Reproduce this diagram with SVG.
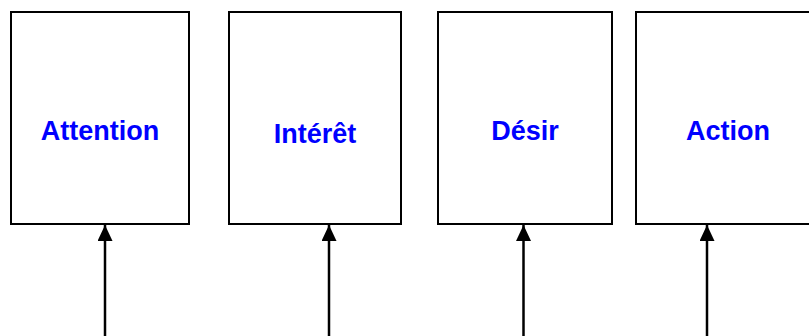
<svg xmlns="http://www.w3.org/2000/svg" width="809" height="336" viewBox="0 0 809 336">
<defs>
<style>
.box{fill:#fff;stroke:#000;stroke-width:2}
.lbl{font-family:"Liberation Sans",Arial,sans-serif;font-weight:bold;font-size:27px;fill:#0000ff;text-anchor:middle}
.conn{stroke:#000;stroke-width:2.5;fill:none}
</style>
<marker id="ah" markerWidth="16" markerHeight="15" refX="16" refY="7.5" orient="auto" markerUnits="userSpaceOnUse" viewBox="0 0 16 15">
<path d="M0,0 L16,7.5 L0,15 Z" fill="#000"/>
</marker>
</defs>
<rect width="809" height="336" fill="#fff"/>
<g id="attention"><rect class="box" x="11" y="12" width="178" height="212"/><text class="lbl" x="100" y="140">Attention</text></g>
<g id="interet"><rect class="box" x="229" y="12" width="172" height="212"/><text class="lbl" x="315" y="143">Intérêt</text></g>
<g id="desir"><rect class="box" x="438" y="12" width="174" height="212"/><text class="lbl" x="525" y="140">Désir</text></g>
<g id="action"><rect class="box" x="636" y="12" width="184" height="212"/><text class="lbl" x="728" y="140">Action</text></g>
<g id="connectors">
<line class="conn" x1="105" y1="336" x2="105" y2="225" marker-end="url(#ah)"/>
<line class="conn" x1="329" y1="336" x2="329" y2="225" marker-end="url(#ah)"/>
<line class="conn" x1="523.5" y1="336" x2="523.5" y2="225" marker-end="url(#ah)"/>
<line class="conn" x1="707" y1="336" x2="707" y2="225" marker-end="url(#ah)"/>
</g>
</svg>
